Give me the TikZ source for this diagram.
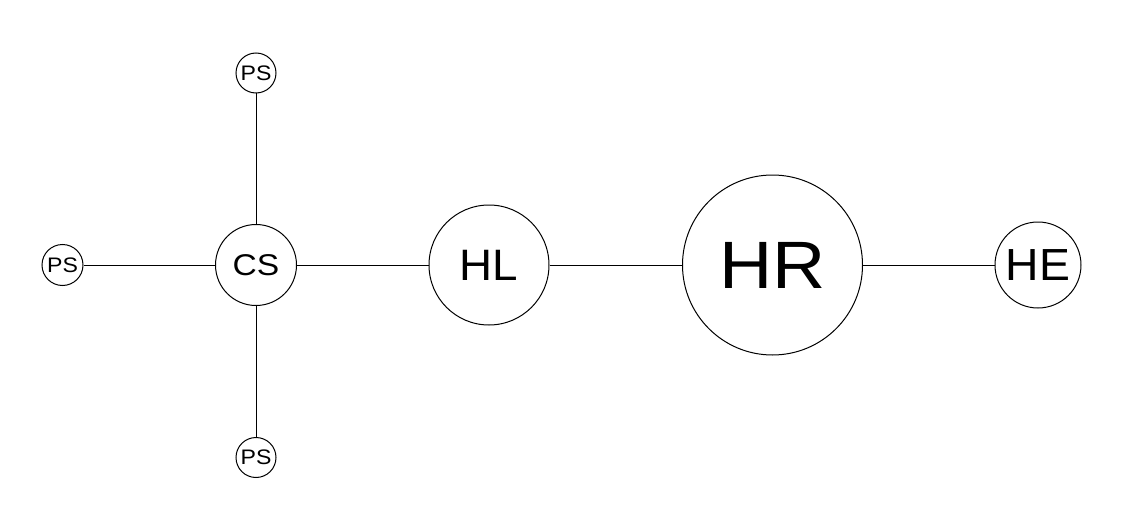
\documentclass[tikz,border=0pt]{standalone}
\usepackage{graphicx}
\usepackage{fontspec}
\setmainfont{Liberation Sans}
\newcommand{\wide}[2]{\scalebox{#1}[1]{#2}}
\begin{document}
\begin{tikzpicture}[x=1pt,y=-1pt,
  hub/.style={circle,draw,line width=1pt,inner sep=0pt,minimum size=#1},
  link/.style={line width=1pt},
  fs/.style={font=\fontsize{#1}{#1}\selectfont}]
\useasboundingbox (0,0) rectangle (1133,527);
% peripheral stations
\node[hub=41pt,fs=21] (psl) at (62.5,265) {\wide{1.1}{PS}};
\node[hub=40pt,fs=21] (pst) at (256,73) {\wide{1.1}{PS}};
\node[hub=40pt,fs=21] (psb) at (256,457.5) {\wide{1.1}{PS}};
% main chain
\node[hub=81pt,fs=30] (cs) at (256,265) {\wide{1.12}{CS}};
\node[hub=120pt,fs=44] (hl) at (489,265) {\wide{1.04}{HL}};
\node[hub=180pt,fs=67] (hr) at (772.5,265) {\wide{1.1}{HR}};
\node[hub=86pt,fs=45] (he) at (1038,265) {\wide{1.03}{HE}};
% connections
\draw[link] (psl) -- (cs);
\draw[link] (pst) -- (cs);
\draw[link] (psb) -- (cs);
\draw[link] (cs) -- (hl);
\draw[link] (hl) -- (hr);
\draw[link] (hr) -- (he);
\end{tikzpicture}
\end{document}
